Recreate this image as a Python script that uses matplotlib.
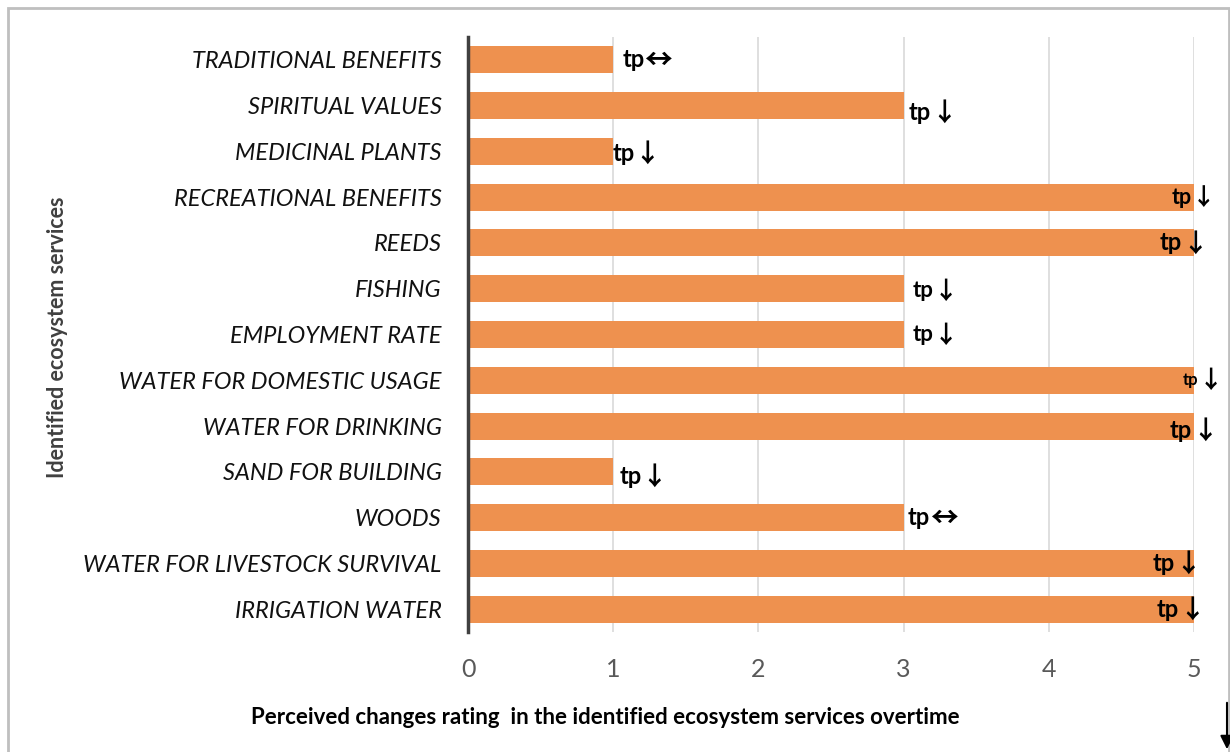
import matplotlib
matplotlib.use('Agg')
import matplotlib.pyplot as plt
from matplotlib.patches import Rectangle, FancyArrowPatch

# ecosystem services, top to bottom
services = ['TRADITIONAL BENEFITS', 'SPIRITUAL VALUES', 'MEDICINAL PLANTS',
            'RECREATIONAL BENEFITS', 'REEDS', 'FISHING', 'EMPLOYMENT RATE',
            'WATER FOR DOMESTIC USAGE', 'WATER FOR DRINKING', 'SAND FOR BUILDING',
            'WOODS', 'WATER FOR LIVESTOCK SURVIVAL', 'IRRIGATION WATER']
rating = [1, 3, 1, 5, 5, 3, 3, 5, 5, 1, 3, 5, 5]
trend = ['↔', '↓', '↓', '↓', '↓', '↓', '↓', '↓', '↓', '↓', '↔', '↓', '↓']

# label placement next to bar ends (pixels: dx right, dy up) and font size
lab_dx = [9, 5, -1, -22, -34, 9, 9, -11, -24, 6, 4, -41, -37]
lab_dy = [0, -7, -2, 0, 0, -2, 0, 0, -4, -5, 0, 0, 0]
lab_fs = [17, 17, 17, 15.5, 17, 16, 16, 12, 17, 17, 17, 17, 17]
arr_fs = [20, 18.5, 18.5, 17, 18.5, 17.5, 17.5, 17.5, 18.5, 18.5, 20, 18.5, 18.5]

W, H = 1230, 752
fig = plt.figure(figsize=(W / 100, H / 100), dpi=100)
ax = fig.add_axes([468 / W, 1 - 632 / H, (1194 - 468) / W, (632 - 37) / H])

ypos = list(range(len(services)))[::-1]
ax.barh(ypos, rating, height=0.59, color='#ee914f', zorder=2)

for y, v, t, dx, dy, fs, afs in zip(ypos, rating, trend, lab_dx, lab_dy, lab_fs, arr_fs):
    tp = ax.annotate('tp', xy=(v, y), xytext=(dx, dy), textcoords='offset pixels',
                     ha='left', va='center', fontsize=fs, fontweight='bold',
                     family='Lato', color='black', zorder=3)
    ax.annotate(t, xy=(1, 0.5), xycoords=tp, xytext=(0, -1),
                textcoords='offset pixels', ha='left', va='center',
                fontsize=afs, fontweight='bold', family='Noto Sans CJK SC',
                color='black', zorder=3)

ax.set_xlim(0, 5)
ax.set_ylim(-0.5, len(services) - 0.5)
ax.set_yticks(ypos)
ax.set_yticklabels(services, fontsize=17, style='italic', family='Lato', color='#111111')
ax.set_xticks(range(6))
ax.set_xticklabels([str(i) for i in range(6)], fontsize=18, family='Lato', color='#595959')
ax.tick_params(axis='y', length=0, pad=19)
ax.tick_params(axis='x', length=0, pad=19)
ax.grid(axis='x', color='#d9d9d9', linewidth=1.2, zorder=0)
for s in ['top', 'right', 'bottom']:
    ax.spines[s].set_visible(False)
ax.spines['left'].set_color('#404040')
ax.spines['left'].set_linewidth(2.5)
ax.spines['left'].set_zorder(4)

fig.text(605 / W, 1 - 718 / H,
         'Perceived changes rating  in the identified ecosystem services overtime',
         ha='center', va='center', fontsize=16, fontweight='bold',
         family='Lato', color='black')
fig.text(58 / W, 1 - 337 / H, 'Identified ecosystem services', rotation=90,
         ha='center', va='center', fontsize=15.5, fontweight='bold',
         family='Lato', color='#404040')

# chart frame
fig.add_artist(Rectangle((7.5 / W, -0.1), (1229 - 7.5) / W, 1.1 - 7.5 / H,
                         transform=fig.transFigure, fill=False,
                         edgecolor='#bfbfbf', linewidth=2))
fig.add_artist(FancyArrowPatch((1227 / W, 1 - 700 / H), (1227 / W, 0.0),
                               transform=fig.transFigure, arrowstyle='-|>',
                               mutation_scale=20, color='black', linewidth=1.5))

fig.savefig('out.png', dpi=100, facecolor='white')
